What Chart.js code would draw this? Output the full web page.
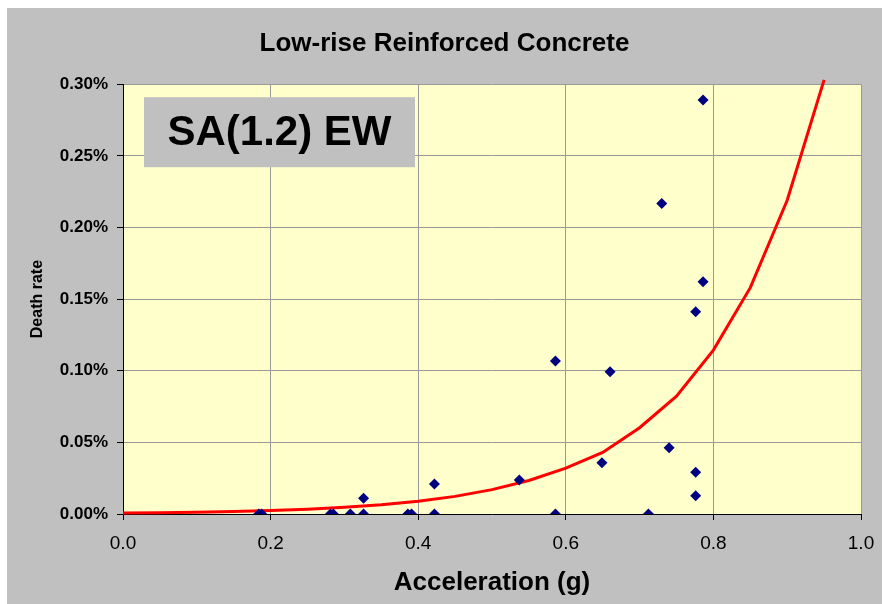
<!DOCTYPE html>
<html>
<head>
<meta charset="utf-8">
<script src="https://cdn.jsdelivr.net/npm/chart.js@4/dist/chart.umd.min.js"></script>
<style>
  html, body { margin: 0; padding: 0; background: #fff; }
  #wrap { position: absolute; left: 7px; top: 8px; width: 875px; height: 596px; background: #c0c0c0; }
  canvas { display: block; }
</style>
</head>
<body>
<div id="wrap"><canvas id="chart" width="875" height="596"></canvas></div>
<script>
// observed points (acceleration in g, death rate in %)
const accel = [0.184, 0.188, 0.281, 0.285, 0.308, 0.326, 0.326, 0.386, 0.391, 0.422, 0.422,
  0.537, 0.586, 0.586, 0.649, 0.660, 0.712, 0.730, 0.740, 0.776, 0.776, 0.776, 0.786, 0.786];
const deathRate = [0, 0, 0, 0, 0, 0, 0.011, 0, 0, 0, 0.021,
  0.0237, 0.1068, 0, 0.0358, 0.0993, 0, 0.2168, 0.0463, 0.0291, 0.0128, 0.1412, 0.1621, 0.2889];

// fitted curve (red line)
const curveAccel = [0, 0.05, 0.1, 0.15, 0.2, 0.25, 0.3, 0.35, 0.4, 0.45,
  0.5, 0.55, 0.6, 0.65, 0.7, 0.75, 0.8, 0.85, 0.9, 0.95];
const curveRate = [0.0007, 0.0009, 0.0013, 0.0018, 0.0025, 0.0034, 0.0047, 0.0065, 0.0089, 0.0123,
  0.0170, 0.0234, 0.0320, 0.0430, 0.0602, 0.0823, 0.1144, 0.1580, 0.2190, 0.3030];

const xTicks = [0, 0.2, 0.4, 0.6, 0.8, 1.0];
const yTicks = [0, 0.05, 0.1, 0.15, 0.2, 0.25, 0.3];

const chartTitle = "Low-rise Reinforced Concrete";
const boxLabel = "SA(1.2) EW";

const FONT = "'Liberation Sans', Arial, sans-serif";

// yellow plot area + label box
const plotDecor = {
  id: "plotDecor",
  beforeDraw(chart) {
    const { ctx, chartArea: a } = chart;
    ctx.save();
    ctx.fillStyle = "#ffffcc";
    ctx.fillRect(a.left, a.top, a.right - a.left, a.bottom - a.top);
    ctx.restore();
  },
  afterDraw(chart) {
    const { ctx, chartArea: a } = chart;
    const bx = a.left + 21, by = a.top + 13, bw = 271, bh = 70;
    ctx.save();
    ctx.fillStyle = "#c0c0c0";
    ctx.fillRect(bx, by, bw, bh);
    ctx.fillStyle = "#000";
    ctx.font = "bold 42px " + FONT;
    ctx.textAlign = "center";
    ctx.textBaseline = "middle";
    ctx.fillText(boxLabel, bx + bw / 2, by + bh / 2 + 1);
    ctx.restore();
  }
};

new Chart(document.getElementById("chart"), {
  type: "scatter",
  data: {
    datasets: [
      {
        label: "Observed",
        data: accel.map((x, i) => ({ x, y: deathRate[i] })),
        pointStyle: "rectRot",
        pointRadius: 5.5,
        pointHoverRadius: 5.5,
        backgroundColor: "#000080",
        borderColor: "#000080",
        borderWidth: 0,
        order: 0
      },
      {
        label: "Fit",
        type: "line",
        data: curveAccel.map((x, i) => ({ x, y: curveRate[i] })),
        borderColor: "#ff0000",
        borderWidth: 3,
        pointRadius: 0,
        tension: 0,
        fill: false,
        clip: false,
        order: 1
      }
    ]
  },
  options: {
    responsive: false,
    animation: false,
    devicePixelRatio: 1,
    layout: { padding: 0 },
    plugins: {
      legend: { display: false },
      tooltip: { enabled: false },
      title: {
        display: true,
        text: chartTitle,
        color: "#000",
        font: { family: FONT, size: 26, weight: "bold" },
        padding: { top: 20, bottom: 25 }
      }
    },
    scales: {
      x: {
        type: "linear",
        min: 0,
        max: 1,
        afterBuildTicks: s => { s.ticks = xTicks.map(v => ({ value: v })); },
        afterFit: s => { s.height = 90; s.paddingRight = 21; },
        ticks: {
          color: "#000",
          padding: 12,
          font: { family: FONT, size: 19 },
          callback: v => Number(v).toFixed(1)
        },
        grid: { color: "#999", tickColor: "#000", tickLength: 6, drawTicks: true },
        border: { color: "#000", width: 1 },
        title: {
          display: true,
          text: "Acceleration (g)",
          color: "#000",
          font: { family: FONT, size: 26, weight: "bold" },
          padding: 6
        }
      },
      y: {
        type: "linear",
        min: 0,
        max: 0.3,
        afterBuildTicks: s => { s.ticks = yTicks.map(v => ({ value: v })); },
        afterFit: s => { s.width = 116; },
        ticks: {
          color: "#000",
          padding: 9,
          font: { family: FONT, size: 17, weight: "bold" },
          callback: v => Number(v).toFixed(2) + "%"
        },
        grid: { color: "#999", tickColor: "#000", tickLength: 6, drawTicks: true },
        border: { color: "#000", width: 1 },
        title: {
          display: true,
          text: "Death rate",
          color: "#000",
          font: { family: FONT, size: 16, weight: "bold" },
          padding: 21
        }
      }
    }
  },
  plugins: [plotDecor]
});
</script>
</body>
</html>
